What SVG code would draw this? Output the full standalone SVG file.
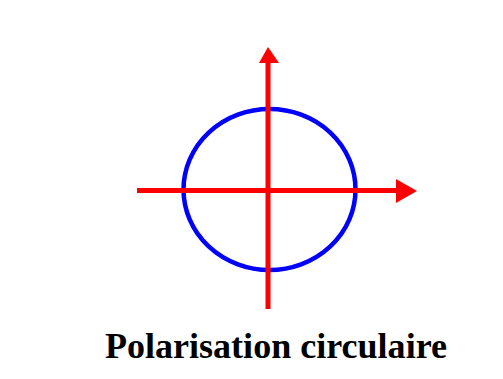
<svg xmlns="http://www.w3.org/2000/svg" width="503" height="379" viewBox="0 0 503 379">
<style>
.axis{stroke:#ff0000;stroke-width:5;fill:none}
.head{fill:#ff0000}
.circ{stroke:#0000ff;stroke-width:4.5;fill:none}
.lbl{font-family:"Liberation Serif",serif;font-weight:bold;font-size:36px;fill:#000}
</style>
<rect width="503" height="379" fill="#fff"/>
<g id="circle"><ellipse class="circ" cx="269.5" cy="189.5" rx="86" ry="80.5"/></g>
<g id="connectors">
<line class="axis" x1="137" y1="190.5" x2="400" y2="190.5"/>
<polygon class="head" points="396,179 417,191 396,203"/>
<line class="axis" x1="268" y1="309" x2="268" y2="60"/>
<polygon class="head" points="259,63 268,47 279,63"/>
</g>
<g id="label"><text class="lbl" x="105" y="358" textLength="342" lengthAdjust="spacingAndGlyphs">Polarisation circulaire</text></g>
</svg>
